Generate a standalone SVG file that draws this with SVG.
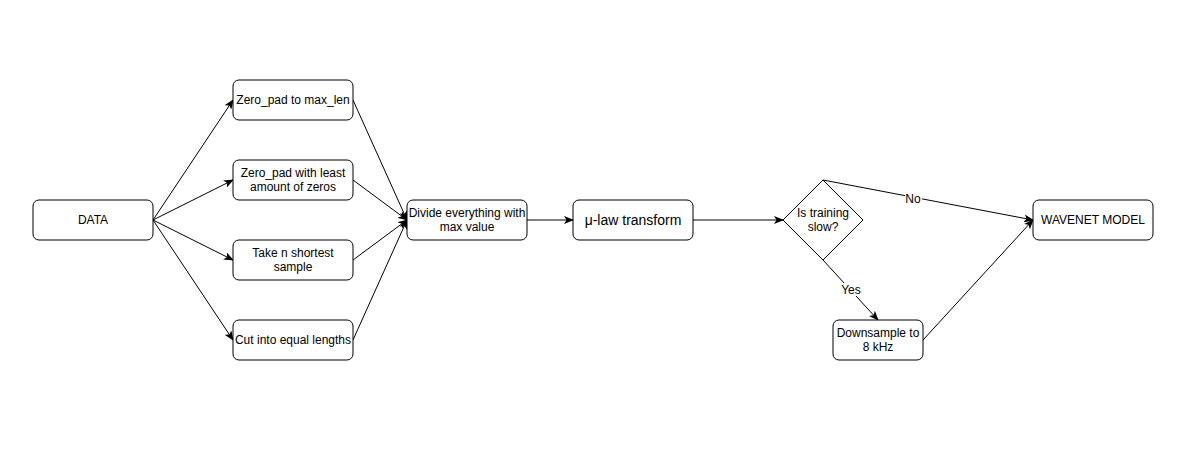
<svg xmlns="http://www.w3.org/2000/svg" width="1193" height="469" viewBox="0 0 1193 469">
<style>
.n{fill:#fff;stroke:#000;stroke-width:1}
.t{font-family:"Liberation Sans",Arial,sans-serif;font-size:12px;fill:#000;text-anchor:middle}
.big{font-size:14px}
.e{fill:none;stroke:#000;stroke-width:1;marker-end:url(#a)}
.lb{fill:#fff}
</style>
<defs>
<marker id="a" viewBox="0 0 10 8" refX="9" refY="4" markerWidth="10" markerHeight="8" markerUnits="userSpaceOnUse" orient="auto">
<path d="M0,0 L10,4 L0,8 L2.5,4 Z" fill="#000"/>
</marker>
</defs>
<rect width="1193" height="469" fill="#fff"/>
<g id="edges">
<path class="e" d="M153,220 L233,100"/>
<path class="e" d="M153,220 L233,180"/>
<path class="e" d="M153,220 L233,260"/>
<path class="e" d="M153,220 L233,340"/>
<path class="e" d="M353,100 L407,220"/>
<path class="e" d="M353,180 L407,220"/>
<path class="e" d="M353,260 L407,220"/>
<path class="e" d="M353,340 L407,220"/>
<path class="e" d="M527,220 L573,220"/>
<path class="e" d="M693,220 L783,220"/>
<path class="e" d="M823,180 L1033,220"/>
<path class="e" d="M823,260 L878,320"/>
<path class="e" d="M923,340 L1033,220"/>
<rect class="lb" x="905" y="192" width="17" height="13"/>
<text class="t" x="913" y="203">No</text>
<rect class="lb" x="840" y="283" width="22" height="13"/>
<text class="t" x="851" y="294">Yes</text>
</g>
<g id="data"><rect class="n" x="33" y="200" width="120" height="40" rx="6"/><text class="t" x="93" y="224">DATA</text></g>
<g id="zeropad-max"><rect class="n" x="233" y="80" width="120" height="40" rx="6"/><text class="t" x="293" y="104">Zero_pad to max_len</text></g>
<g id="zeropad-least"><rect class="n" x="233" y="160" width="120" height="40" rx="6"/><text class="t" x="293" y="177">Zero_pad with least</text><text class="t" x="293" y="191">amount of zeros</text></g>
<g id="take-n"><rect class="n" x="233" y="240" width="120" height="40" rx="6"/><text class="t" x="293" y="257">Take n shortest</text><text class="t" x="293" y="271">sample</text></g>
<g id="cut"><rect class="n" x="233" y="320" width="120" height="40" rx="6"/><text class="t" x="293" y="344">Cut into equal lengths</text></g>
<g id="divide"><rect class="n" x="407" y="200" width="120" height="40" rx="6"/><text class="t" x="467" y="217">Divide everything with</text><text class="t" x="467" y="231">max value</text></g>
<g id="mulaw"><rect class="n" x="573" y="200" width="120" height="40" rx="6"/><text class="t big" x="633" y="225">μ-law transform</text></g>
<g id="decision"><path class="n" d="M823,180 L863,220 L823,260 L783,220 Z"/><text class="t" x="823" y="217">Is training</text><text class="t" x="823" y="231">slow?</text></g>
<g id="downsample"><rect class="n" x="833" y="320" width="90" height="40" rx="6"/><text class="t" x="878" y="337">Downsample to</text><text class="t" x="878" y="351">8 kHz</text></g>
<g id="wavenet"><rect class="n" x="1033" y="200" width="120" height="40" rx="6"/><text class="t" x="1093" y="224">WAVENET MODEL</text></g>
</svg>
